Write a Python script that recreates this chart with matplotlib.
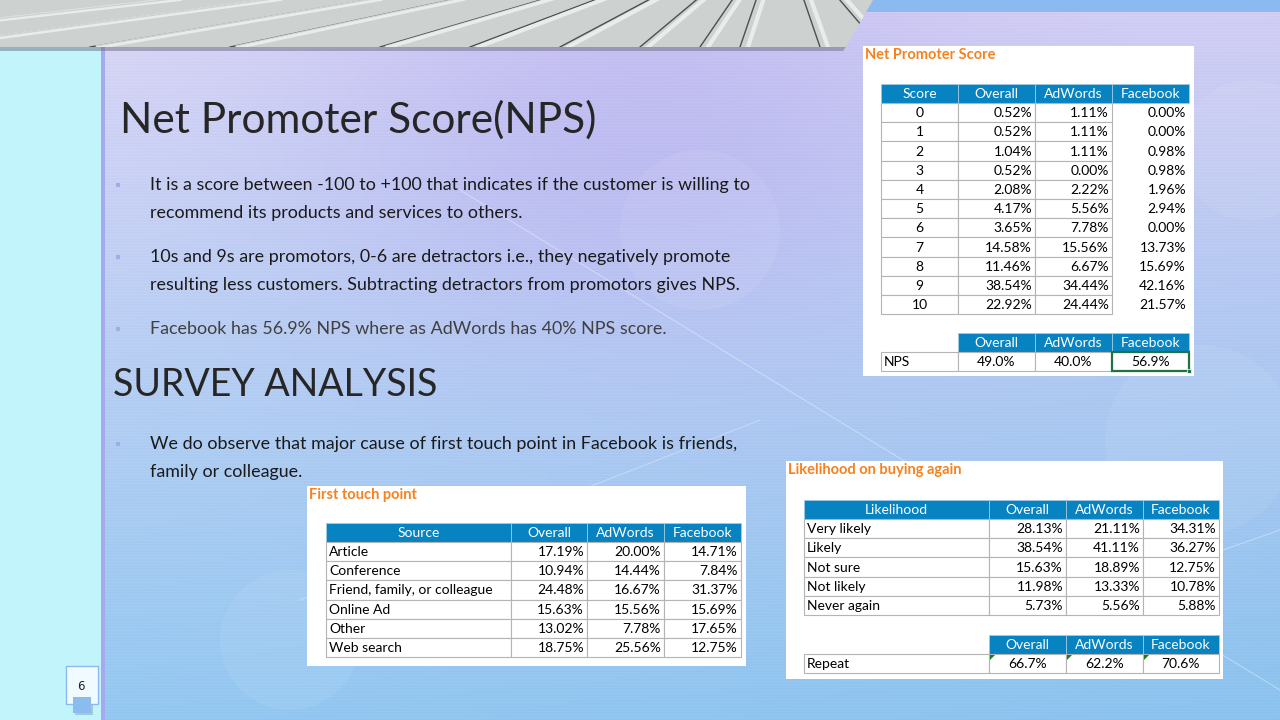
import numpy as np
import matplotlib
matplotlib.use("Agg")
import matplotlib.pyplot as plt
from matplotlib.patches import Rectangle, Polygon, Circle

# ---- data ----
nps_scores = ['0', '1', '2', '3', '4', '5', '6', '7', '8', '9', '10']
nps_overall = [0.52, 0.52, 1.04, 0.52, 2.08, 4.17, 3.65, 14.58, 11.46, 38.54, 22.92]
nps_adwords = [1.11, 1.11, 1.11, 0.00, 2.22, 5.56, 7.78, 15.56, 6.67, 34.44, 24.44]
nps_facebook = [0.00, 0.00, 0.98, 0.98, 1.96, 2.94, 0.00, 13.73, 15.69, 42.16, 21.57]
nps_summary = [49.0, 40.0, 56.9]

touch_sources = ['Article', 'Conference', 'Friend, family, or colleague',
                 'Online Ad', 'Other', 'Web search']
touch_overall = [17.19, 10.94, 24.48, 15.63, 13.02, 18.75]
touch_adwords = [20.00, 14.44, 16.67, 15.56, 7.78, 25.56]
touch_facebook = [14.71, 7.84, 31.37, 15.69, 17.65, 12.75]

likely_labels = ['Very likely', 'Likely', 'Not sure', 'Not likely', 'Never again']
likely_overall = [28.13, 38.54, 15.63, 11.98, 5.73]
likely_adwords = [21.11, 41.11, 18.89, 13.33, 5.56]
likely_facebook = [34.31, 36.27, 12.75, 10.78, 5.88]
repeat_summary = [66.7, 62.2, 70.6]

channels = ['Overall', 'AdWords', 'Facebook']

bullets_nps = [
    ("It is a score between -100 to +100 that indicates if the customer is willing to",
     "recommend its products and services to others."),
    ("10s and 9s are promotors, 0-6 are detractors i.e., they negatively promote",
     "resulting less customers. Subtracting detractors from promotors gives NPS."),
    ("Facebook has 56.9% NPS where as AdWords has 40% NPS score.",),
]
bullets_survey = [
    ("We do observe that major cause of first touch point in Facebook is friends,",
     "family or colleague."),
]

HEAD = '#0783c1'
GRID = '#b4b4b4'
ORANGE = '#f5821f'
TFONT = 'Lato'
SFONT = 'Lato'
TSIZE = 10

fig = plt.figure(figsize=(12.8, 7.2), dpi=100)
ax = fig.add_axes([0, 0, 1, 1])
ax.set_xlim(0, 1280)
ax.set_ylim(720, 0)
ax.axis('off')

# ---- background ----
H, W = 720, 1280
yy, xx = np.mgrid[0:H, 0:W] / np.array([H, W])[:, None, None]
tl = np.array([0.86, 0.84, 0.96])
tr = np.array([0.82, 0.80, 0.95])
bl = np.array([0.58, 0.78, 0.94])
br = np.array([0.54, 0.76, 0.93])
bg = (tl * ((1 - xx) * (1 - yy))[..., None] + tr * (xx * (1 - yy))[..., None]
      + bl * ((1 - xx) * yy)[..., None] + br * (xx * yy)[..., None])
blob = np.exp(-(((xx - 0.5) / 0.25) ** 2 + ((yy - 0.18) / 0.3) ** 2))[..., None]
bg = bg * (1 - 0.5 * blob) + np.array([0.70, 0.66, 0.93]) * 0.5 * blob
stripes = (np.arange(H) % 3 == 0)[:, None, None] * 0.015
bg = np.clip(bg + stripes, 0, 1)
ax.imshow(bg, extent=(0, 1280, 720, 0), zorder=0, aspect='auto')

for cx, cy, r in [(1200, 440, 95), (290, 640, 70), (640, 560, 60), (700, 230, 80), (1250, 150, 70)]:
    ax.add_patch(Circle((cx, cy), r, color='white', alpha=0.07, lw=0, zorder=1))
ax.plot([460, 1280], [190, 690], color='white', alpha=0.35, lw=0.8, zorder=1)
ax.plot([300, 760], [600, 420], color='white', alpha=0.3, lw=0.8, zorder=1)
ax.plot([1080, 1280], [600, 530], color='white', alpha=0.35, lw=0.8, zorder=1)

# left strip and separator
ax.add_patch(Rectangle((0, 0), 101, 720, color='#c2f4fb', lw=0, zorder=2))
ax.add_patch(Rectangle((101, 47), 4, 673, color='#a6a9ec', lw=0, zorder=2))
# top blue strip on the right
ax.add_patch(Rectangle((850, 0), 430, 12, color='#8bbaf0', lw=0, zorder=2))

# top banner (architecture photo stand-in)
banner = Polygon([(0, 0), (873, 0), (846, 47), (0, 47)], closed=True,
                 facecolor='#cdd1d0', edgecolor='none', zorder=3)
ax.add_patch(banner)
ax.add_patch(Polygon([(0, 47), (846, 47), (843, 51), (0, 51)], closed=True,
                     facecolor='#6e6e80', alpha=0.5, edgecolor='none', zorder=3))
vx, vy = 780, -70
for bx in [-250, -80, 90, 230, 380, 470, 560, 640, 700, 740, 820, 880, 950, 1040, 1150, 1300, 1500]:
    ln, = ax.plot([vx, bx], [vy, 47], color='#2c2f30', lw=1.0, alpha=0.8, zorder=3)
    ln.set_clip_path(banner)
    ln2, = ax.plot([vx + 6, bx + 8], [vy, 47], color='#f2f4f4', lw=3, alpha=0.8, zorder=3)
    ln2.set_clip_path(banner)

# ---- slide text ----
ax.text(120, 120, 'Net Promoter Score(NPS)', fontsize=30.5, family=SFONT,
        color='#262626', va='center', ha='left', zorder=5)
ax.text(113, 385, 'SURVEY ANALYSIS', fontsize=27, family=SFONT,
        color='#262626', va='center', ha='left', zorder=5)


def bullet_block(items, y_start, line_gap, para_gap, colors):
    y = y_start
    for item, col in zip(items, colors):
        ax.add_patch(Rectangle((116, y - 2.5), 4, 4, color='#a4aaea', lw=0, zorder=5))
        for line in item:
            ax.text(150, y, line, fontsize=12.9, family=SFONT, color=col,
                    va='center', ha='left', zorder=5)
            y += line_gap
        y += para_gap


bullet_block(bullets_nps, 185, 28, 16, ['#1a1a1a', '#1a1a1a', '#404040'])
bullet_block(bullets_survey, 444, 28, 16, ['#1a1a1a'])


# ---- tables ----
def header_row(x0, y0, widths, h, labels):
    x = x0
    for w, lab in zip(widths, labels):
        ax.add_patch(Rectangle((x, y0), w, h, facecolor=HEAD, edgecolor='#9fc9e3',
                               lw=0.6, zorder=6))
        ax.text(x + w / 2, y0 + h / 2 + 0.5, lab, color='white', fontsize=TSIZE,
                family=TFONT, ha='center', va='center', zorder=7)
        x += w


def body_rows(x0, y0, widths, h, labels, cols, label_align='center', fmt='{:.2f}%',
              grid_cols=None):
    n_grid = len(widths) if grid_cols is None else grid_cols
    for i, lab in enumerate(labels):
        y = y0 + i * h
        x = x0
        for j, w in enumerate(widths):
            if j < n_grid:
                ax.add_patch(Rectangle((x, y), w, h, facecolor='white', edgecolor=GRID,
                                       lw=0.8, zorder=6))
            if j == 0:
                if label_align == 'left':
                    ax.text(x + 3, y + h / 2 + 0.5, lab, fontsize=TSIZE, family=TFONT,
                            color='black', ha='left', va='center', zorder=7)
                else:
                    ax.text(x + w / 2, y + h / 2 + 0.5, lab, fontsize=TSIZE, family=TFONT,
                            color='black', ha='center', va='center', zorder=7)
            else:
                ax.text(x + w - 3, y + h / 2 + 0.5, fmt.format(cols[j - 1][i]),
                        fontsize=TSIZE, family=TFONT, color='black', ha='right',
                        va='center', zorder=7)
            x += w


def panel(x0, y0, w, h, title):
    ax.add_patch(Rectangle((x0, y0), w, h, facecolor='white', edgecolor='none', zorder=5))
    ax.text(x0 + 2, y0 + 9, title, fontsize=10.5, family=TFONT, weight='bold',
            color=ORANGE, ha='left', va='center', zorder=7)


# Net Promoter Score
panel(863, 46, 331, 330, 'Net Promoter Score')
w4 = [77, 77, 77, 77]
header_row(881, 84, w4, 19, ['Score'] + channels)
body_rows(881, 103, w4, 19.2, nps_scores, [nps_overall, nps_adwords, nps_facebook],
          grid_cols=3)
header_row(958, 333, w4[1:], 19, channels)
ax.add_patch(Rectangle((881, 352), 77, 19, facecolor='white', edgecolor=GRID, lw=0.8, zorder=6))
ax.text(884, 362, 'NPS', fontsize=TSIZE, family=TFONT, ha='left', va='center', zorder=7)
for k, v in enumerate(nps_summary):
    x = 958 + 77 * k
    ax.add_patch(Rectangle((x, 352), 77, 19, facecolor='white', edgecolor=GRID, lw=0.8, zorder=6))
    ax.text(x + 38.5, 362, '{:.1f}%'.format(v), fontsize=TSIZE, family=TFONT,
            ha='center', va='center', zorder=7)
ax.add_patch(Rectangle((1112, 352), 77, 19, facecolor='none', edgecolor='#217346', lw=1.6, zorder=8))
ax.add_patch(Rectangle((1187, 369), 4, 4, facecolor='#217346', edgecolor='white', lw=0.5, zorder=9))

# First touch point
panel(307, 486, 439, 180, 'First touch point')
wt = [185, 76, 77, 77]
header_row(326, 523, wt, 19, ['Source'] + channels)
body_rows(326, 542, wt, 19.2, touch_sources, [touch_overall, touch_adwords, touch_facebook],
          label_align='left')

# Likelihood on buying again
panel(786, 461, 437, 218, 'Likelihood on buying again')
wl = [185, 77, 77, 76]
header_row(804, 500, wl, 19, ['Likelihood'] + channels)
body_rows(804, 519, wl, 19.2, likely_labels, [likely_overall, likely_adwords, likely_facebook],
          label_align='left')
header_row(989, 635, wl[1:], 19, channels)
ax.add_patch(Rectangle((804, 654), 185, 19, facecolor='white', edgecolor=GRID, lw=0.8, zorder=6))
ax.text(807, 664, 'Repeat', fontsize=TSIZE, family=TFONT, ha='left', va='center', zorder=7)
x = 989
for k, v in enumerate(repeat_summary):
    w = wl[k + 1]
    ax.add_patch(Rectangle((x, 654), w, 19, facecolor='white', edgecolor=GRID, lw=0.8, zorder=6))
    ax.add_patch(Polygon([(x + 1, 655), (x + 6, 655), (x + 1, 660)], closed=True,
                         facecolor='#1a7f1a', edgecolor='none', zorder=8))
    ax.text(x + w / 2, 664, '{:.1f}%'.format(v), fontsize=TSIZE, family=TFONT,
            ha='center', va='center', zorder=7)
    x += w

# page number box
ax.add_patch(Rectangle((75, 699), 18, 16, facecolor='#7a8a9a', alpha=0.4, lw=0, zorder=5))
ax.add_patch(Rectangle((66, 666), 32, 38, facecolor='#f1fbff', edgecolor='#8bbaf0', lw=1.0, zorder=6))
ax.add_patch(Rectangle((73, 697), 18, 16, facecolor='#8bbcf0', lw=0, zorder=7))
ax.text(81, 686, '6', fontsize=8.5, family='DejaVu Sans', ha='center', va='center',
        color='#222222', zorder=8)

fig.savefig('out.png', dpi=100)
